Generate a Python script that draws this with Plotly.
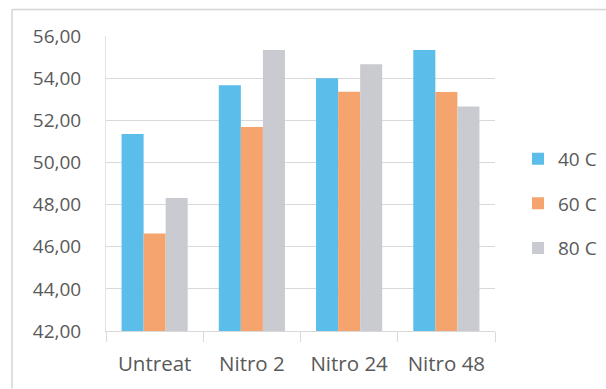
import plotly.graph_objects as go

# Treatment groups and measured values per temperature
categories = ["Untreat", "Nitro 2", "Nitro 24", "Nitro 48"]
series_names = ["40 C", "60 C", "80 C"]
values_40c = [51.35, 53.66, 54.00, 55.34]
values_60c = [46.63, 51.68, 53.36, 53.34]
values_80c = [48.31, 55.34, 54.66, 52.65]
y_ticks = [42, 44, 46, 48, 50, 52, 54, 56]

colors = ["#5bbde9", "#f4a46c", "#c9cbd0"]
text_color = "#595959"
font_family = "Open Sans, Calibri, sans-serif"

W, H = 606, 389
plot_l, plot_r, plot_t, plot_b = 106, 495, 36, 331.5

fig = go.Figure()
for name, vals, col in zip(series_names, [values_40c, values_60c, values_80c], colors):
    fig.add_trace(go.Bar(
        x=categories, y=vals, name=name, marker=dict(color=col, line=dict(width=0)),
        legendgroup=name,
    ))

# chart frame edges (left and top) in paper coordinates
pw = plot_r - plot_l
ph = plot_b - plot_t
fx = lambda px: (px - plot_l) / pw
fy = lambda py: (plot_b - py) / ph
frame = dict(color="#d4d4d4", width=1.5)
fig.add_shape(type="line", xref="paper", yref="paper",
              x0=fx(12), x1=fx(12), y0=fy(H), y1=fy(9.5), line=frame, layer="below")
fig.add_shape(type="line", xref="paper", yref="paper",
              x0=fx(12), x1=fx(W), y0=fy(9.5), y1=fy(9.5), line=frame, layer="below")

fig.update_layout(
    width=W, height=H,
    margin=dict(l=plot_l, r=W - plot_r, t=plot_t, b=H - plot_b, pad=0, autoexpand=False),
    paper_bgcolor="white", plot_bgcolor="white",
    separators=",.",
    barmode="group", bargap=0.32, bargroupgap=0,
    font=dict(family=font_family, size=19, color=text_color),
    showlegend=True,
    legend=dict(x=fx(518), y=fy(140), xanchor="left", yanchor="top",
                font=dict(size=19, color=text_color), tracegroupgap=17,
                itemwidth=30, bgcolor="rgba(0,0,0,0)"),
    xaxis=dict(showgrid=False, showline=True, linecolor="#d9d9d9", linewidth=1,
               ticks="outside", tickson="boundaries", ticklen=10, tickcolor="#d9d9d9",
               ticklabelstandoff=14,
               tickfont=dict(size=20.5, color=text_color)),
    yaxis=dict(range=[42, 56], tickvals=y_ticks, tickformat=".2f",
               showgrid=True, gridcolor="#d9d9d9", gridwidth=1,
               showline=True, linecolor="#e3e3e3", linewidth=1,
               zeroline=False, ticks="", ticklabelstandoff=20,
               tickfont=dict(size=19, color=text_color)),
)

fig.write_html("out.html")
